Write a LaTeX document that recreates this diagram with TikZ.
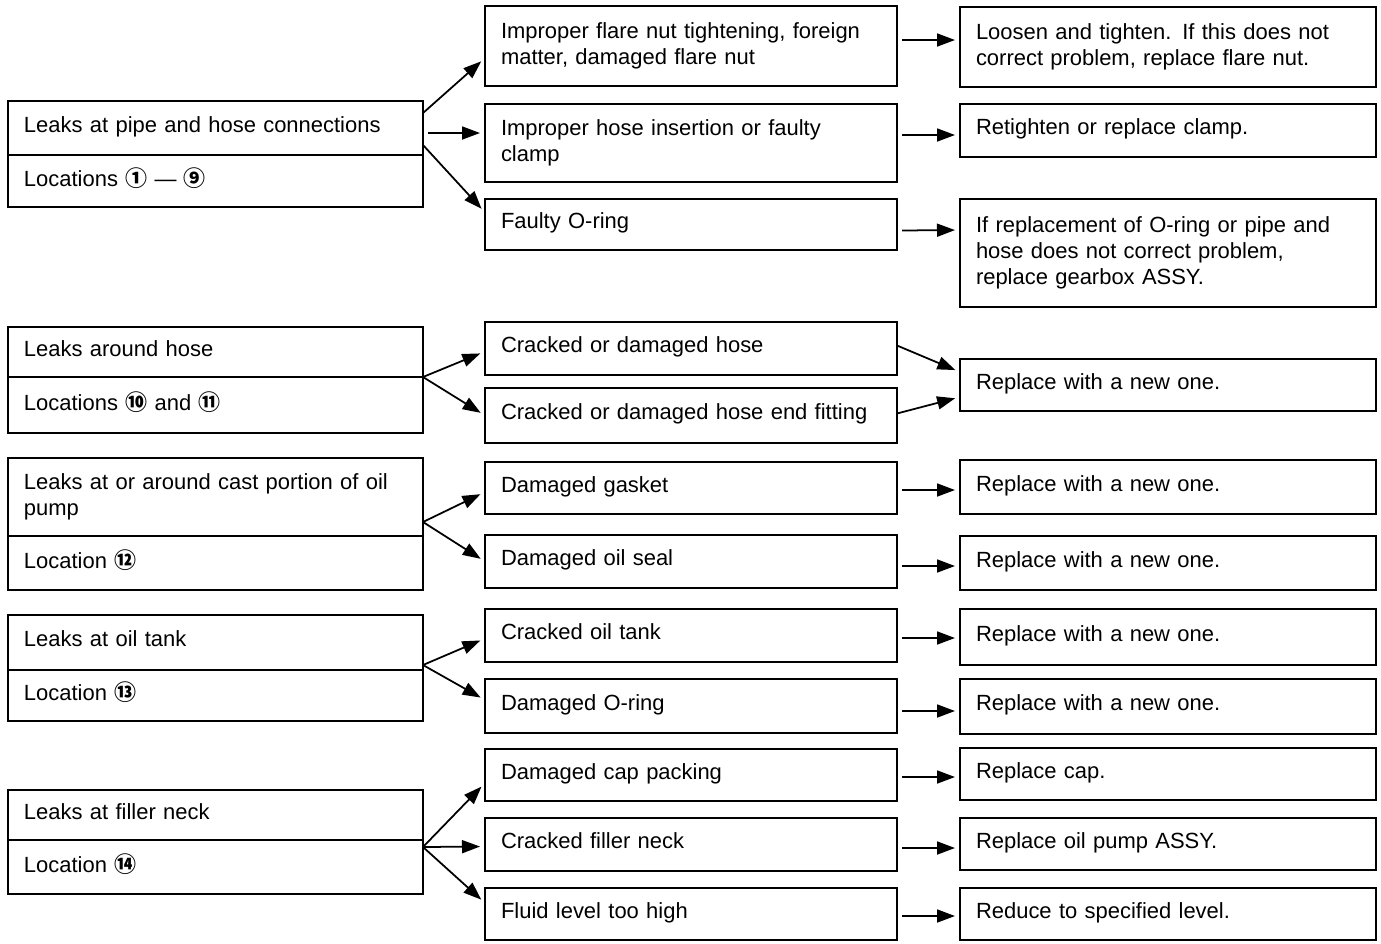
\documentclass[tikz,border=0pt]{standalone}
\usepackage{fontspec}
\setmainfont{Liberation Sans}
\newfontfamily\circfont{Noto Sans CJK JP}
\usetikzlibrary{arrows.meta,calc,positioning}
\newcommand{\loc}[1]{{\circfont\bfseries #1}}

\begin{document}
\begin{tikzpicture}[x=0.2mm,y=-0.2mm,>={Triangle[length=3.6mm,width=2.6mm]},
              font=\fontsize{12.5}{14.8}\selectfont, node distance=0pt,
              box/.style={draw,line width=1pt,align=left,inner xsep=3.2mm,inner ysep=0pt,outer sep=0pt,text depth=0.45em},
              multi/.style={text depth=},
              leak box/.style={box,text width=7.66cm},
              cause box/.style={box,text width=7.6cm},
              fix box/.style={box,text width=7.68cm},
              arr/.style={->,line width=1pt,shorten >=1mm}]

            \useasboundingbox (0,0) rectangle (1381,943);

            % leaks
            \node[leak box,minimum height=10.8mm] (l1a) at (215.5,128) {Leaks at pipe and hose connections};
            \node[leak box,minimum height=10.4mm,below=of l1a] (l1b) {Locations \loc{①} — \loc{⑨}};
            \node[leak box,minimum height=10mm] (l2a) at (215.5,352) {Leaks around hose};
            \node[leak box,minimum height=11.2mm,below=of l2a] (l2b) {Locations \loc{⑩} and \loc{⑪}};
            \node[leak box,multi,minimum height=15.6mm] (l3a) at (215.5,497) {Leaks at or around cast portion of oil\\pump};
            \node[leak box,minimum height=10.8mm,below=of l3a] (l3b) {Location \loc{⑫}};
            \node[leak box,minimum height=11mm] (l4a) at (215.5,642.5) {Leaks at oil tank};
            \node[leak box,minimum height=10.2mm,below=of l4a] (l4b) {Location \loc{⑬}};
            \node[leak box,minimum height=10mm] (l5a) at (215.5,815) {Leaks at filler neck};
            \node[leak box,minimum height=10.8mm,below=of l5a] (l5b) {Location \loc{⑭}};

            % causes
            \node[cause box,multi,minimum height=16mm] (m1a) at (691,46) {Improper flare nut tightening, foreign\\matter, damaged flare nut};
            \node[cause box,multi,minimum height=15.6mm] (m1b) at (691,143) {Improper hose insertion or faulty\\clamp};
            \node[cause box,minimum height=10.2mm] (m1c) at (691,224.5) {Faulty O-ring};
            \node[cause box,minimum height=10.6mm] (m2a) at (691,348.5) {Cracked or damaged hose};
            \node[cause box,minimum height=11mm] (m2b) at (691,415.5) {Cracked or damaged hose end fitting};
            \node[cause box,minimum height=10.4mm] (m3a) at (691,488) {Damaged gasket};
            \node[cause box,minimum height=10.6mm] (m3b) at (691,561.5) {Damaged oil seal};
            \node[cause box,minimum height=10.6mm] (m4a) at (691,635.5) {Cracked oil tank};
            \node[cause box,minimum height=10.8mm] (m4b) at (691,706) {Damaged O-ring};
            \node[cause box,minimum height=10.4mm] (m5a) at (691,775) {Damaged cap packing};
            \node[cause box,minimum height=10.6mm] (m5b) at (691,844.5) {Cracked filler neck};
            \node[cause box,minimum height=10.4mm] (m5c) at (691,914) {Fluid level too high};

            % remedies
            \node[fix box,multi,minimum height=16mm] (r1a) at (1168,47) {Loosen and tighten. If this does not\\correct problem, replace flare nut.};
            \node[fix box,minimum height=10.6mm] (r1b) at (1168,130.5) {Retighten or replace clamp.};
            \node[fix box,multi,minimum height=21.6mm] (r1c) at (1168,253) {If replacement of O-ring or pipe and\\hose does not correct problem,\\replace gearbox ASSY.};
            \node[fix box,minimum height=10.4mm] (r2) at (1168,385) {Replace with a new one.};
            \node[fix box,minimum height=10.8mm] (r3a) at (1168,487) {Replace with a new one.};
            \node[fix box,minimum height=10.8mm] (r3b) at (1168,563) {Replace with a new one.};
            \node[fix box,minimum height=11.2mm] (r4a) at (1168,637) {Replace with a new one.};
            \node[fix box,minimum height=11mm] (r4b) at (1168,706.5) {Replace with a new one.};
            \node[fix box,minimum height=10.4mm] (r5a) at (1168,774) {Replace cap.};
            \node[fix box,minimum height=10.4mm] (r5b) at (1168,844) {Replace oil pump ASSY.};
            \node[fix box,minimum height=10.4mm] (r5c) at (1168,914) {Reduce to specified level.};

            \path[arr]
            ($(l1a.north east)+(0,12)$) edge ($(m1a.west)+(0,12)$)
            ($(l1a.east)+(5,5)$) edge ($(m1b.west)+(0,-10)$)
            ($(l1a.south east)+(0,-10)$) edge ($(m1c.west)+(0,-12)$)
            (l2a.south east) edge ($(m2a.west)+(0,3)$)
            (l2a.south east) edge (m2b.west)
            ($(l3a.south east)+(0,-14)$) edge ($(m3a.west)+(0,4)$)
            ($(l3a.south east)+(0,-14)$) edge (m3b.west)
            ($(l4a.south east)+(0,-5)$) edge ($(m4a.west)+(0,3)$)
            ($(l4a.south east)+(0,-5)$) edge ($(m4b.west)+(0,-6)$)
            ($(l5b.north east)+(0,7)$) edge ($(m5a.west)+(0,8)$)
            ($(l5b.north east)+(0,7)$) edge ($(m5b.west)+(0,2)$)
            ($(l5b.north east)+(0,7)$) edge ($(m5c.west)+(0,-11)$);

            \path[arr]
            ($(m1a.east)+(5,-6)$) edge ($(r1a.west)+(0,-7)$)
            ($(m1b.east)+(5,-8)$) edge ($(r1b.west)+(0,4.5)$)
            ($(m1c.east)+(5,6)$) edge ($(r1c.west)+(0,-23)$)
            ($(m2a.east)+(0,-3)$) edge ($(r2.west)+(0,-13)$)
            ($(m2b.east)+(0,-2)$) edge ($(r2.west)+(0,12)$)
            ($(m3a.east)+(5,2)$) edge ($(r3a.west)+(0,3)$)
            ($(m3b.east)+(5,4.5)$) edge ($(r3b.west)+(0,3)$)
            ($(m4a.east)+(5,2.5)$) edge ($(r4a.west)+(0,1)$)
            ($(m4b.east)+(5,5)$) edge ($(r4b.west)+(0,4.5)$)
            ($(m5a.east)+(5,2)$) edge ($(r5a.west)+(0,3)$)
            ($(m5b.east)+(5,3.5)$) edge ($(r5b.west)+(0,4)$)
            ($(m5c.east)+(5,2)$) edge ($(r5c.west)+(0,2)$);
          \end{tikzpicture}
\end{document}
